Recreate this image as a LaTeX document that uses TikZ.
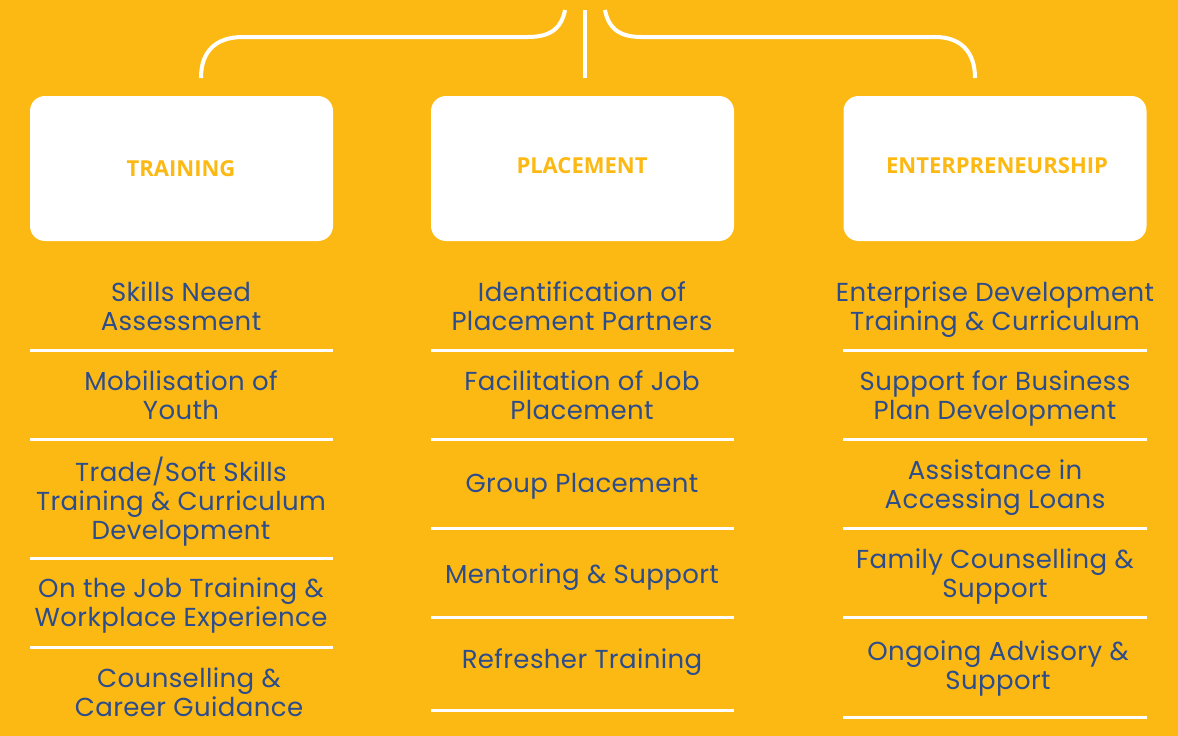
\documentclass[tikz,border=0pt]{standalone}
\usepackage{fontspec}
\setmainfont{Poppins}[LetterSpace=1.5]
\newfontfamily\headfont{Open Sans}
\definecolor{gold}{HTML}{FDB913}
\definecolor{navy}{HTML}{2C4C8C}
\begin{document}
\begin{tikzpicture}[x=1pt,y=-1pt,
  item/.style={text=navy, font=\fontsize{26}{29}\selectfont, align=center, inner sep=0pt},
  head/.style={text=gold, font=\headfont\bfseries\fontsize{22}{26}\selectfont},
  card/.style={fill=white, rounded corners=15pt, minimum width=303pt, minimum height=145pt, inner sep=0pt},
  sep/.style={draw=white, line width=3pt},
  link/.style={draw=white, line width=4pt}]
\fill[gold] (0,0) rectangle (1178,736);
\useasboundingbox (0,0) rectangle (1178,736);
% top connectors
\coordinate (l0) at (201,78);
\coordinate (l1) at (243,37);
\coordinate (l2) at (528,37);
\coordinate (l3) at (565,10);
\coordinate (m0) at (585,10);
\coordinate (m1) at (585,78);
\coordinate (r0) at (605,10);
\coordinate (r1) at (641,37);
\coordinate (r2) at (935,37);
\coordinate (r3) at (975,78);
\draw[link] (l0) .. controls (201,52) and (215,37) .. (l1) -- (l2) .. controls (553,37) and (562,26) .. (l3);
\draw[link] (m0) -- (m1);
\draw[link] (r0) .. controls (608,26) and (617,37) .. (r1) -- (r2) .. controls (961,37) and (975,52) .. (r3);
% cards
\node[card] (train) at (181.5,168.5) {};
\node[card] (place) at (582.5,168.5) {};
\node[card] (entre) at (995,168.5) {};
\node[head] (trainT) at (181,169) {TRAINING};
\node[head] (placeT) at (582,166) {PLACEMENT};
\node[head] (entreT) at (997,166) {ENTERPRENEURSHIP};
% separators
\foreach \y in {350,439,558,647} \draw[sep] (30,\y) -- (333,\y);
\foreach \y in {350,439,528,617,710} \draw[sep] (431,\y) -- (734,\y);
\foreach \y in {350,439,528,617,717} \draw[sep] (843,\y) -- (1147,\y);
% training items
\node[item] (t1) at (181,309.7) {Skills Need\strut\\Assessment\strut};
\node[item] (t2) at (181,398.7) {Mobilisation of\strut\\Youth\strut};
\node[item] (t3) at (181,502.2) {Trade/Soft Skills\strut\\Training \& Curriculum\\Development\strut};
\node[item] (t4) at (181,605.7) {On the Job Training \&\strut\\Workplace Experience\strut};
\node[item] (t5) at (189,695.7) {Counselling \&\strut\\Career Guidance\strut};
% placement items
\node[item] (p1) at (582,309.7) {Identification of\strut\\Placement Partners\strut};
\node[item] (p2) at (582,398.7) {Facilitation of Job\strut\\Placement\strut};
\node[item] (p3) at (582,486.2) {Group Placement\strut};
\node[item] (p4) at (582,577.2) {Mentoring \& Support\strut};
\node[item] (p5) at (582,662.2) {Refresher Training\strut};
% entrepreneurship items
\node[item] (e1) at (995,309.7) {Enterprise Development\strut\\Training \& Curriculum\strut};
\node[item] (e2) at (995,398.7) {Support for Business\strut\\Plan Development\strut};
\node[item] (e3) at (995,487.7) {Assistance in\strut\\Accessing Loans\strut};
\node[item] (e4) at (995,576.7) {Family Counselling \&\strut\\Support\strut};
\node[item] (e5) at (998,668.7) {Ongoing Advisory \&\strut\\Support\strut};
\end{tikzpicture}
\end{document}
